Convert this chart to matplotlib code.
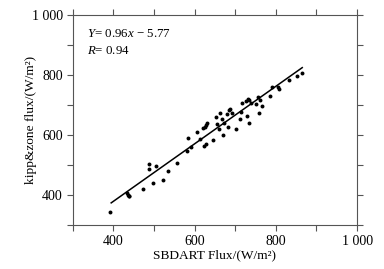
import matplotlib
matplotlib.use("Agg")
import matplotlib.pyplot as plt
from matplotlib.ticker import MultipleLocator, FuncFormatter
import numpy as np

sbdart = [393, 435, 437, 440, 438, 474, 487, 488, 498, 505, 523, 534, 557,
          582, 584, 592, 607, 613, 622, 625, 628, 623, 629, 631, 646, 652,
          656, 659, 662, 667, 669, 672, 681, 682, 685, 688, 691, 701, 712,
          714, 716, 726, 728, 731, 734, 733, 738, 752, 757, 759, 761, 765,
          785, 790, 806, 808, 833, 852, 864]
kipp = [342, 405, 400, 395, 398, 419, 503, 487, 440, 497, 449, 479, 505,
        546, 589, 559, 611, 586, 623, 627, 632, 564, 571, 640, 584, 660,
        638, 619, 673, 654, 600, 640, 671, 625, 684, 688, 673, 621, 652,
        676, 707, 713, 662, 720, 716, 639, 707, 702, 727, 673, 716, 696,
        730, 760, 760, 752, 783, 796, 807]

slope, intercept = 0.96, -5.77
fit_x = [395, 865]

plt.rcParams['font.family'] = ['Liberation Serif', 'DejaVu Serif']
plt.rcParams['mathtext.fontset'] = 'custom'
plt.rcParams['mathtext.rm'] = 'Liberation Serif'
plt.rcParams['mathtext.it'] = 'Liberation Serif:italic'

fig = plt.figure(figsize=(3.84, 2.69), dpi=100)
ax = fig.add_axes([0.189, 0.164, 0.741, 0.780])

ax.scatter(sbdart, kipp, s=8, color='black', zorder=3, linewidths=0)
fx = np.array(fit_x, dtype=float)
ax.plot(fx, slope * fx + intercept, color='black', lw=1.1)

ax.set_xlim(300, 1000)
ax.set_ylim(300, 1000)
ax.xaxis.set_major_locator(MultipleLocator(200))
ax.xaxis.set_minor_locator(MultipleLocator(100))
ax.yaxis.set_major_locator(MultipleLocator(200))
ax.yaxis.set_minor_locator(MultipleLocator(100))

def fmt(v, pos):
    v = int(round(v))
    if v >= 1000:
        return f"{v // 1000} {v % 1000:03d}"
    return str(v)

ax.xaxis.set_major_formatter(FuncFormatter(fmt))
ax.yaxis.set_major_formatter(FuncFormatter(fmt))
ax.tick_params(which='both', direction='out', top=True, right=True,
               labelsize=10, width=0.8, color='#555555', pad=3)
ax.tick_params(which='major', length=4)
ax.tick_params(which='minor', length=4)
for s in ax.spines.values():
    s.set_linewidth(0.8)
    s.set_color('#555555')

ax.set_xlabel('SBDART Flux/(W/m\u00b2)', fontsize=9.6, labelpad=1)
ax.set_ylabel('kipp&zone flux/(W/m\u00b2)', fontsize=9.6, labelpad=-4)

ax.text(0.05, 0.94, '$Y$= 0.96$x$ \u2212 5.77',
        transform=ax.transAxes, fontsize=9.3, va='top', ha='left')
ax.text(0.05, 0.855, '$R$= 0.94', transform=ax.transAxes, fontsize=9.3,
        va='top', ha='left')

fig.savefig('out.png', dpi=100)
